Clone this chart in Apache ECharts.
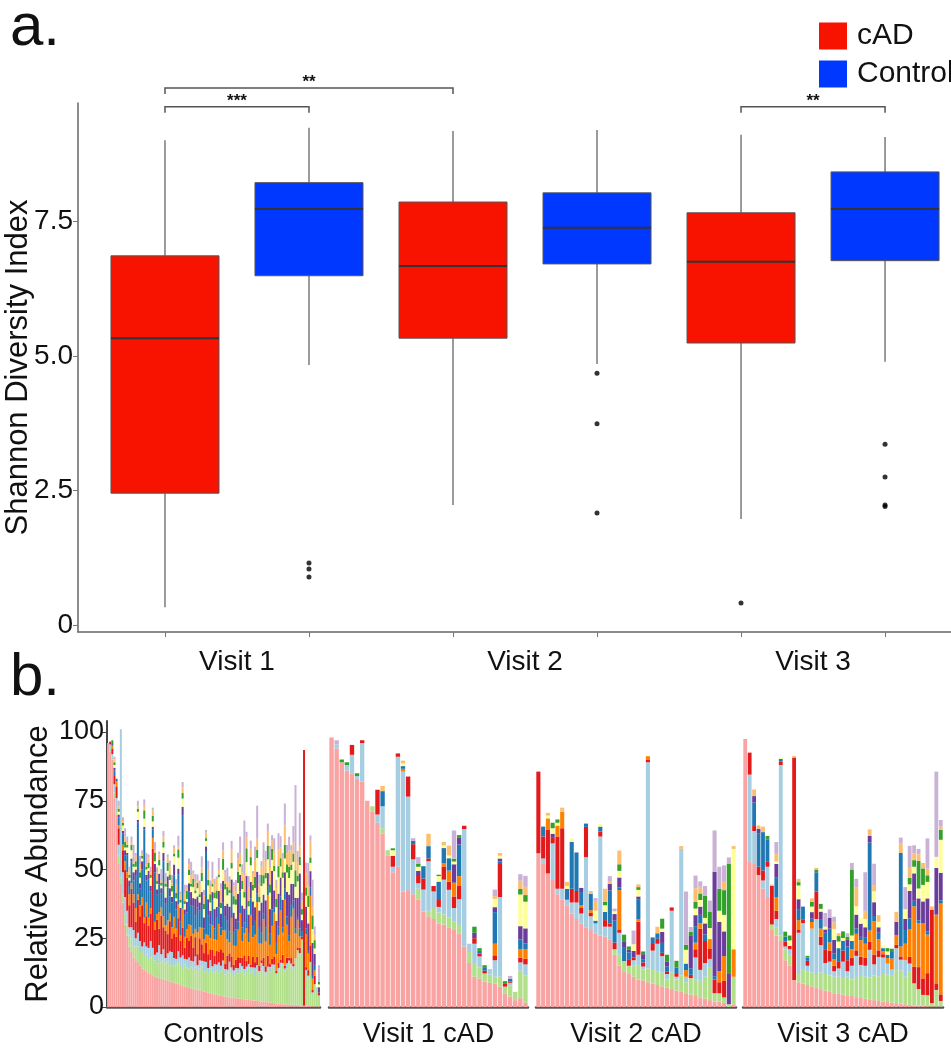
<!DOCTYPE html>
<html><head><meta charset="utf-8">
<script src="https://cdn.jsdelivr.net/npm/echarts@6/dist/echarts.min.js"></script>
<style>html,body{margin:0;padding:0;background:#fff}#c{width:951px;height:1050px}</style>
</head><body><div id="c"></div><script>
// ---------- Panel a data ----------
const boxGroups = ['cAD','Control','cAD','Control','cAD','Control'];
const visitLabels = ['Visit 1','Visit 2','Visit 3'];
const boxMin = [0.33, 4.83, 2.23, 4.85, 1.97, 4.89];
const boxQ1  = [2.45, 6.49, 5.33, 6.71, 5.24, 6.77];
const boxMed = [5.33, 7.73, 6.67, 7.38, 6.75, 7.73];
const boxQ3  = [6.86, 8.22, 7.86, 8.03, 7.66, 8.42];
const boxMax = [9.01, 9.24, 9.18, 9.20, 9.11, 9.07];
const outlierBox = [2,2,2,4,4,4,5,6,6,6,6];
const outlierVal = [1.15,1.04,0.89,4.68,3.74,2.08,0.41,3.36,2.75,2.23,2.20];
const bracketFrom = [1,1,5];
const bracketTo = [2,3,6];
const bracketY = [9.63,9.98,9.63];
const bracketLabels = ['***','**','**'];
const yTicksA = [0,2.5,5,7.5];

// ---------- Panel b data ----------
const taxa = ['t1','t2','t3','t4','t5','t6','t7','t8','t9','t10','t11'];
const taxonColors = ['#F9A3A2','#B2DF8A','#A6CEE3','#E31A1C','#FF7F00','#1F78B4','#6A3D9A','#FFFF99','#33A02C','#FDBF6F','#CAB2D6'];
const facetTitles = ['Controls','Visit 1 cAD','Visit 2 cAD','Visit 3 cAD'];
const yTicksB = [0,25,50,75,100];

// Controls: one array per taxon (bottom to top), one value per sample
const controlsByTaxon = [
[96,93,90,76,70,52,45,38,30,26,22,20,18,17,16,15,14,13.5,13,12.5,12,11.5,11,10.8,10.5,10.2,10,9.8,9.5,9.2,9,8.8,8.5,8.3,8,7.8,7.5,7.3,7,6.8,6.6,6.4,6.2,6,5.8,5.6,5.4,5.2,5,4.8,4.6,4.4,4.2,4,3.9,3.8,3.6,3.5,3.4,3.3,3.2,3.1,3,2.9,2.8,2.7,2.6,2.5,2.4,2.3,2.2,2.1,2,1.9,1.8,1.7,1.6,1.5,1.4,1.3,1.2,1.1,1,1,0.9,0.9,0.8,0.8,0.7,0.7,0.6,0.6,0.5,0.5,0.4,0.4,0.3,0.3,0.2,0.2],
[0,0.5,1,2,1,3,2,3,4,4,4,5,4,5,6,5,6,5,6,5,6,7,6,5,7,6,7,6,7,6,7,6,7,8,7,6,8,7,7,8,7,8,7,8,9,7,8,7,9,8,8,9,8,9,10,8,9,10,9,8,10,9,10,11,9,10,12,10,11,9,11,10,12,11,10,12,11,13,12,10,12,13,14,12,13,15,14,13,16,20,18,24,0,12,10,16,4,8,6,4],
[0,2,1,3,5,4,54,8,6,5,3,4,6,3,5,4,2,5,3,4,6,3,2,4,5,3,4,2,3,5,4,3,2,4,3,5,2,3,4,2,3,4,2,3,2,4,3,2,3,2,3,2,4,2,3,2,1,3,2,2,1,2,3,1,2,2,1,2,1,3,2,1,2,2,1,1,2,1,2,1,1,2,1,1,2,1,1,1,1,0,1,0,0,1,1,0,1,0,1,0],
[0,1,2,3,4,6,0,8,10,12,8,14,10,6,12,9,15,7,11,8,10,36,9,12,6,14,8,10,7,11,5,9,8,12,6,10,4,8,6,9,5,7,4,8,6,3,7,5,4,6,3,5,4,6,3,2,5,3,4,2,3,4,2,3,5,2,3,1,4,2,3,2,1,3,2,4,1,2,3,1,2,1,3,1,2,1,2,1,0,1,2,1,93,1,2,6,1,3,0,1],
[0,0,1,0,2,1,0,2,3,2,4,2,3,5,2,4,3,2,5,3,2,4,3,2,6,3,4,2,5,3,4,6,3,5,2,7,4,3,6,4,5,3,8,4,6,5,3,7,4,9,6,4,10,5,8,12,6,4,14,7,5,10,16,6,8,12,5,18,7,10,20,8,6,14,9,22,7,12,16,6,10,18,8,24,12,6,15,20,9,10,4,0,0,12,6,18,4,2,0,0],
[0,0,1,2,1,3,0,4,2,6,3,8,5,12,26,6,10,32,8,14,6,3,18,7,10,5,20,8,12,6,9,15,7,11,5,34,8,6,12,7,10,5,9,6,8,4,30,7,5,9,4,8,6,3,10,5,7,4,9,5,6,3,8,5,4,7,3,6,4,5,3,6,4,2,5,3,4,6,2,4,3,5,2,4,3,2,4,3,2,1,3,2,0,2,1,3,1,2,0,0],
[0,0,0,1,0,1,0,1,2,1,2,1,3,2,1,2,3,1,2,3,2,1,3,2,4,2,3,2,4,3,2,4,3,2,5,3,2,4,3,5,3,6,4,3,5,4,2,6,5,3,7,4,6,5,8,4,6,9,5,7,4,10,6,8,5,12,7,6,9,5,8,6,11,7,10,5,9,14,6,8,12,7,10,6,9,15,8,6,11,7,20,4,0,8,10,6,12,4,0,2],
[0,0,0,1,0,1,0,2,1,2,1,3,2,1,3,2,1,3,2,1,3,2,1,2,3,1,2,4,2,3,2,3,1,4,2,3,2,1,3,2,4,2,3,2,4,3,2,5,3,2,4,3,5,2,4,6,3,5,4,3,5,4,3,6,4,5,3,6,4,7,5,3,6,4,8,5,6,4,7,5,6,4,8,5,7,6,5,8,4,6,3,2,0,4,6,3,5,2,0,1],
[0,0,1,1,0,1,0,1,2,1,1,2,1,2,1,2,1,3,1,2,1,2,3,1,2,1,2,1,3,2,2,1,2,3,1,2,1,3,2,1,3,1,2,1,3,2,1,2,3,1,2,3,1,2,4,2,3,1,2,3,2,4,1,3,2,5,2,3,2,4,3,2,4,3,2,5,3,4,2,3,4,3,2,5,3,4,2,3,6,2,3,2,0,3,4,2,5,3,0,1],
[0,0,0,1,0,1,0,1,2,1,2,1,1,2,1,3,1,2,1,2,1,2,1,3,2,1,2,1,2,3,1,2,3,1,2,2,3,1,2,3,2,3,1,4,2,3,2,4,3,2,3,4,2,5,3,4,2,3,5,4,3,5,4,3,6,4,5,3,4,6,4,5,3,6,4,5,6,3,5,4,6,4,5,7,4,6,5,4,6,5,4,3,0,5,4,6,3,2,0,0],
[0,0,0,1,0,2,0,1,3,2,1,2,6,1,2,3,1,2,4,1,2,1,3,2,1,4,2,3,1,2,3,1,2,4,1,2,3,1,2,5,1,3,2,1,4,2,1,3,2,6,2,1,4,2,3,1,5,2,3,1,4,2,6,3,20,2,4,3,1,5,12,3,2,6,4,3,8,2,5,3,6,4,2,8,3,5,2,6,25,4,12,3,0,4,8,2,10,3,0,6]
];

// cAD visits: one row per sample, taxa bottom to top
const visit1ByBar = [
[98,0,0,0,0,0,0,0,0,0,0],[94,0,1.5,0,0,0,0,0,0,0,1.5],[89,0,0,0,0,0,0,0,1,0,0],[86,0,2,0,0,0,0,0,1,0,0],
[85,0,6.7,3.6,0,0,0,0,0,0,0],[83,0,1,0,0,0,0,0,1,0,0],[82,0,14,1,0,0,0,0,0,0,0],[75,0,0,0,0,0,0,0,0,0,0],
[71,2,0,0,0,0,0,0,0,0,0],[67,0,3,9,0,0,0,0,0,0,0],[63,2,8,0,0,5.5,0,0,0,1.9,0],[55,2,0,0,0,0,0,0,0,0,0],
[49,0,2,4,0,0,0,2,0.7,0,0],[51,0,40,1.2,0,0,0,0,0,0,0],[42,0,43.6,0,1,1,0,1,0,1,0],[42.5,0,34,7.3,0,0,0,0,0,0,0],
[41,0,12.7,5.5,0,1.2,0,0,0,0,1],[39,4,2,3,0,0,1.5,1.5,1,0,2.5],[34.7,0,8,4,0,4.5,0,0,0,0,0],[33,2,18,1,0,4.5,0,0,0,4.5,0],
[32,4,6,2,0,0,0,0,0,0,0],[30.4,4,2,2.5,0,6.7,0,2,0.5,0,0],[30,3.6,12.7,4.8,1.2,5.5,0,1,0,1.2,0],[29,3.6,10,3,4,4.5,0,1,0,3.6,0],
[28,3,5,4.2,5,0,6.7,1,1,0,10.3],[26.8,3,9.4,4.8,3.6,11.5,2.4,0,1,0,0],[22,0,42.7,1.2,0,0,0,0,0,0,0],[16,4,3,0,0,0,0,0,0,0,0],
[11,5,7,2,0,0,2,0,2.2,0,0],[10.4,4,4,1,0,1,0,0,1,0,0],[9.2,3,0,1,0,1,0,0,1,0,0],[8.8,3,2,0,0,0,0,0,0,0,0],
[8.6,2.4,6,1.8,4.2,11.5,1.8,3,0,1,2.4],[7.4,3.6,29,12,0,1,1,1,0,1,0],[5,2.4,0,1,0,0,0,0,1,0,0],[3.8,4,1,0.5,0,1,0,0,0,0,1],
[2.5,3,0,0,0,0,0,0,0,0,0],[3.2,10,3,1.8,3,3.6,4.8,11.5,2,3,2.4],[1.5,10,4,2,3.6,2,5.5,9.7,2.4,3,4]
];
const visit2ByBar = [
[55.9,0,0,29.7,0,0,0,0,0,0,0],[52,0,2,8,0,3.6,0,0,0,0,0],[48.6,0,0,15.8,4.2,0,0,1,0,1,0],[46.2,0,13.3,2,0,0,1.5,2,2,0,0],
[41,0,2,19,4,0,0,1,1.2,0,0],[39,0,4,22,6,0,0,0,0,1.5,0],[37,0,2,0,0,4,0,1,0,1.5,0],[34,0,4,5,0,17,0,1.2,0,0,0],
[32,0,6,4.2,0,14,0,0,0,0,0],[30.4,0,3.6,2,1,4.8,1.5,0,0,0,0],[29,0,25.5,11,0,1.2,0,0,0,0,0],[28,0,5,1.2,1,6,0,0,0,1,0],
[26.8,0,3.6,0,0,1,0,3.6,0,3.6,1],[26,0,36,1.8,0,1.8,0,1,0,0,0],[25.6,0,3.6,2.4,0,3,0,2.4,1.2,4.8,0],[24.4,0,4.8,1.2,0,12,2.4,0,0,1,1.8],
[19,2,0,2.4,0,8,2.4,1,0,0,1],[15,4,8,1,14.5,1,3.6,2.4,2.4,5,0],[12.7,4,0,0,0,4.8,2.4,0,2.4,0,0],[12,3,0,2.4,0,2.4,1,0,1.2,0,0],
[11,4,2,1,0,0,2.4,2.4,0,0,5],[10,5,4,12,1,7,1.2,2.4,1,1,0],[9.7,4,1,1.5,0,1.2,1.8,0,1,0,0],[9,5,75,1,1.2,0,0,0,0,0,0],
[8.5,5,7,2.4,0,2.4,0,0,0,0,0],[8,5,10,1.8,0,2,0,0,0,2.4,0],[7.5,5,6,1.2,0,3.6,4,1.2,3.6,0,0],[7,3,2,1,0,1.8,1.8,0,2.4,0,0],
[6.5,6,22.5,1.2,0,0,0,0,0,0,0],[6,4,1,1,0,2.4,0,0,2.4,0,0],[5.5,6,46,0,0,0,0,0,0,1,0],[5,4,2,0,2.4,2.4,0,5,1.8,0,19.4],
[4.5,6,0,1.2,0,2.4,12,0,1.2,0,1.8],[4,6,8,3,2.4,6,4,2.4,2.4,5,4.6],[3.5,6,4,15,2,3,3,2.4,2.4,2.4,2],[3,8,5,8,0,2.4,4,2,8,0,3.6],
[2.5,12,3,3.6,3.6,0,0,4,6,0,4],[2,3,0,5,0,1.2,38,0,0,0,15],[2,3,0,4,4,0,18,4,8,0,8],[1.5,2,0,6,9,0,9,6,9,3,6],
[0,1,0,0,0,0,11,0,40,0,2.4],[1,10,0,0,10,0,0,36.5,0,1,0]
];
const visit3ByBar = [
[97.5,0,0,0,0,0,0,0,0,0,0],[53,0,31.5,8,0,0,0,0,0,0,0],[52,0,12,1.8,0,8.5,2.4,0,0,2.4,0],[48,0,0,3,0,12,1.8,0,0,1.2,0],
[43,0,3,3.6,0,14,0,0,0,2,0],[40,0,11,2,0,8,0,0,1.2,0,0],[28,2,0,14,0,0,0,0,0,0.5,0],[26,3,3,3,5,7,5,1,0,3,4],
[24,2,62,1.2,0,1,0,0.6,0,0,0],[17,4,1,1.8,0,1.8,0,0,1.8,0,0],[15,4,2,1.2,0,0,0,2,1.8,0,0],[9.8,0,0,80.9,0,0,0,0,0,0.6,0],
[9,3,15,1,3.6,4,3.6,5,1.2,1.2,0],[8.5,5,17,1.2,0,4.8,0,0,0,0,0],[8,5,2,1.8,0,1.2,0,0,0.6,0,0],[7.5,5,16,0,2.4,1.2,2.4,2,1.8,1.2,0],
[7,5,20,10,0,7,0,0,1,0.6,0],[6.5,6,10,3,3,3.2,3,1,1.8,0,0],[6,6,4,5,0,6,1.2,1,0,0,5],[5.5,6,5,4,3,5,4,0,0,0,3],
[5,6,2,2,2.4,2,5,4,0,2.4,2],[5,6,3,2.4,0,5,0,2.4,2,1,0],[4.5,6,6,4,0,3.6,0,1,2.4,0,0],[4,7,2,4,0,5,2.4,0,1.2,0,1.2],
[4,6,5,3,3,3,0,2,24,0,2.4],[3.6,7,8,2,6,2,5,3,0,7,3],[3.3,8,4,3,6,1.2,4.8,2,0,0,0],[3,8,4,3,5,2.4,3.6,3,0,3,14],
[2.8,8,10,3,4,32,2.4,0,0,2.4,0],[2.5,9,4,3.6,12,2,5,4,0,2,8],[2.2,9,7,2.4,4,2.4,2,2,0,2.4,0],[2,10,6,1.2,1,1.2,0,1,0,0,0],
[1.8,10,4,0,2,1.2,0,1.2,1.2,0,0],[1.6,10,2,0,4,2.4,0,0,1.2,0,0],[1.4,12,8,1.2,3.6,0,4.8,0,0,3.6,0],[1.2,12,4,1.2,3.6,34,0,0,0,3.6,2],
[1,10,6,0,6,5,4,3.6,0,0,8],[0.8,12,3,2.4,10,4,10,2.4,2.4,3.6,8],[0.6,8,0,6,22,2,10,2.4,2.4,2.4,3],[0.5,6,0,8,16,1,8,3.6,10,2.4,2],
[0.4,4,0,6,20,0,8,6,6,2,0],[0.3,4,0,8,14,1.2,12,6,2.4,2.4,11],[0.2,1.2,0,34,0,0,0,0,0,1.2,0],[0.2,6,0,2.4,25,0,17,4,0,0,31],
[0.2,2,0,2.4,33,1.2,10,12,3.6,1.2,2.4]
];

// ---------- build ----------
const FONT = '"Liberation Sans", Arial, Helvetica, sans-serif';
const RED = '#f81200', BLUE = '#0038ff';
const byTaxon = rows => taxa.map((_, t) => rows.map(r => r[t]));
const facetData = [controlsByTaxon, byTaxon(visit1ByBar), byTaxon(visit2ByBar), byTaxon(visit3ByBar)];

function boxItems(group) {
  const out = [];
  boxGroups.forEach((g, i) => {
    if (g === group) out.push([i + 1, boxMin[i], boxQ1[i], boxMed[i], boxQ3[i], boxMax[i]]);
  });
  return out;
}
function renderBox(params, api) {
  const x = api.value(0);
  const lo = api.coord([x, api.value(1)]);
  const q1 = api.coord([x, api.value(2)]);
  const md = api.coord([x, api.value(3)]);
  const q3 = api.coord([x, api.value(4)]);
  const hi = api.coord([x, api.value(5)]);
  const w = api.size([0.75, 0])[0];
  const color = api.visual('color');
  return {type: 'group', children: [
    {type: 'line', shape: {x1: hi[0], y1: hi[1], x2: q3[0], y2: q3[1]}, style: {stroke: '#7a7a7a', lineWidth: 1.5}},
    {type: 'line', shape: {x1: q1[0], y1: q1[1], x2: lo[0], y2: lo[1]}, style: {stroke: '#7a7a7a', lineWidth: 1.5}},
    {type: 'rect', shape: {x: q3[0] - w / 2, y: q3[1], width: w, height: q1[1] - q3[1]}, style: {fill: color, stroke: '#555', lineWidth: 1}},
    {type: 'line', shape: {x1: md[0] - w / 2, y1: md[1], x2: md[0] + w / 2, y2: md[1]}, style: {stroke: '#333', lineWidth: 2}}
  ]};
}
function renderBracket(params, api) {
  const y = api.value(2);
  const a = api.coord([api.value(0), y]);
  const b = api.coord([api.value(1), y]);
  const tip = 6;
  return {type: 'group', children: [
    {type: 'polyline', shape: {points: [[a[0], a[1] + tip], [a[0], a[1]], [b[0], b[1]], [b[0], b[1] + tip]]},
     style: {stroke: '#555', lineWidth: 1.5, fill: null}},
    {type: 'text', style: {text: bracketLabels[params.dataIndex], x: (a[0] + b[0]) / 2, y: a[1] + 3,
     align: 'center', verticalAlign: 'bottom', fontSize: 17, fontWeight: 'bold', fontFamily: FONT, fill: '#111'}}
  ]};
}

const gridB = [
  {left: 107, top: 721, width: 213, height: 286},
  {left: 329, top: 721, width: 199, height: 286},
  {left: 536, top: 721, width: 200, height: 286},
  {left: 743, top: 721, width: 200, height: 286}
];

const grids = [{left: 78, right: 0, top: 103, height: 529}].concat(gridB)
  .map(g => Object.assign({outerBoundsMode: 'none', containLabel: false}, g));
const xAxes = [{
  gridIndex: 0, type: 'value', min: 0.396, max: 6.458,
  axisLine: {show: true, onZero: false, lineStyle: {color: '#666', width: 1.5}},
  axisTick: {show: true, length: 5, customValues: [1,2,3,4,5,6], lineStyle: {color: '#777', width: 1}},
  axisLabel: {customValues: visitLabels.map((_, i) => 2 * i + 1.5), formatter: v => visitLabels[Math.round((v - 1.5) / 2)],
    fontSize: 28, color: '#111', fontFamily: FONT, margin: 16},
  splitLine: {show: false}
}];
const yAxes = [{
  gridIndex: 0, type: 'value', min: -0.13, max: 9.7,
  axisLine: {show: true, lineStyle: {color: '#666', width: 1.5}},
  axisTick: {show: true, length: 5, customValues: yTicksA, lineStyle: {color: '#777', width: 1}},
  axisLabel: {customValues: yTicksA, formatter: v => (v === 0 ? '0' : v.toFixed(1)), fontSize: 28, color: '#111', fontFamily: FONT, margin: 5},
  splitLine: {show: false},
  name: 'Shannon Diversity Index', nameLocation: 'middle', nameGap: 44, nameMoveOverlap: false,
  nameTextStyle: {fontSize: 31, color: '#111', fontFamily: FONT}
}];
facetData.forEach((fd, f) => {
  xAxes.push({
    gridIndex: f + 1, type: 'category', data: fd[0].map((_, i) => i),
    axisLine: {show: true, lineStyle: {color: '#555', width: 2.5}},
    axisTick: {show: false}, axisLabel: {show: false}, splitLine: {show: false},
    name: facetTitles[f], nameLocation: 'middle', nameGap: 14, nameMoveOverlap: false,
    nameTextStyle: {fontSize: 27, color: '#111', fontFamily: FONT, verticalAlign: 'top'}
  });
  yAxes.push(f === 0 ? {
    gridIndex: 1, type: 'value', min: 0, max: 104,
    axisLine: {show: true, lineStyle: {color: '#444', width: 2}},
    axisTick: {show: true, length: 5, customValues: yTicksB, lineStyle: {color: '#444'}},
    axisLabel: {customValues: yTicksB, fontSize: 27, color: '#111', fontFamily: FONT, margin: 3},
    splitLine: {show: false},
    name: 'Relative Abundance', nameLocation: 'middle', nameGap: 53, nameMoveOverlap: false,
    nameTextStyle: {fontSize: 31, color: '#111', fontFamily: FONT}
  } : {gridIndex: f + 1, type: 'value', min: 0, max: 104, show: false, splitLine: {show: false}});
});

const series = [
  {name: 'cAD', type: 'custom', xAxisIndex: 0, yAxisIndex: 0, renderItem: renderBox, data: boxItems('cAD'),
   encode: {x: 0, y: [1,2,3,4,5]}, itemStyle: {color: RED}, z: 3},
  {name: 'Control', type: 'custom', xAxisIndex: 0, yAxisIndex: 0, renderItem: renderBox, data: boxItems('Control'),
   encode: {x: 0, y: [1,2,3,4,5]}, itemStyle: {color: BLUE}, z: 3},
  {name: 'outliers', type: 'scatter', xAxisIndex: 0, yAxisIndex: 0, symbolSize: 5,
   itemStyle: {color: '#000'}, data: outlierBox.map((b, i) => [b, outlierVal[i]]), z: 4},
  {name: 'brackets', type: 'custom', xAxisIndex: 0, yAxisIndex: 0, renderItem: renderBracket, clip: false,
   data: bracketFrom.map((s, i) => [s, bracketTo[i], bracketY[i]]), encode: {x: [0, 1], y: 2}, z: 5}
];
facetData.forEach((fd, f) => {
  fd.forEach((vals, t) => {
    series.push({
      name: 'f' + f + '_' + taxa[t], type: 'bar', stack: 'facet' + f,
      xAxisIndex: f + 1, yAxisIndex: f + 1, data: vals,
      barCategoryGap: f === 0 ? '6%' : '14%',
      itemStyle: {color: taxonColors[t], borderWidth: 0},
      emphasis: {disabled: true}
    });
  });
});

const chart = echarts.init(document.getElementById('c'));
chart.setOption({
  animation: false,
  backgroundColor: '#fff',
  textStyle: {fontFamily: FONT},
  legend: {data: ['cAD', 'Control'], orient: 'vertical', left: 814, top: 16, itemWidth: 28, itemHeight: 27, itemGap: 8,
    icon: 'rect', selectedMode: false, textStyle: {fontSize: 30, color: '#111', fontFamily: FONT, padding: [0, 0, 0, 5]}},
  grid: grids, xAxis: xAxes, yAxis: yAxes, series: series,
  graphic: [
    {type: 'text', left: 10, top: -2, style: {text: 'a.', fontSize: 60, fontFamily: FONT, fill: '#111'}},
    {type: 'text', left: 10, top: 648, style: {text: 'b.', fontSize: 60, fontFamily: FONT, fill: '#111'}}
  ]
});
</script></body></html>
